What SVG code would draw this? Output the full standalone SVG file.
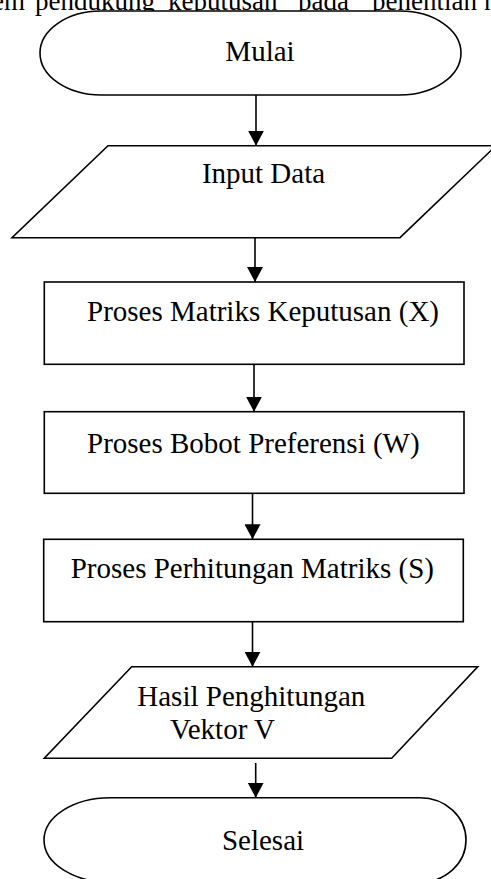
<svg xmlns="http://www.w3.org/2000/svg" width="491" height="879" viewBox="0 0 491 879">
<defs>
<style>
.s{fill:#fff;stroke:#000;stroke-width:1.6}
.t{font-family:"Liberation Serif","Times New Roman",serif;font-size:29px;fill:#000}
.h{font-family:"Liberation Serif","Times New Roman",serif;font-size:27px;fill:#000}
.c{stroke:#000;stroke-width:1.6;fill:none;marker-end:url(#ah)}
</style>
<marker id="ah" markerUnits="userSpaceOnUse" markerWidth="16" markerHeight="16" refX="15" refY="8" orient="auto">
<path d="M0,0 L15,8 L0,16 Z" fill="#000"/>
</marker>
</defs>
<rect width="491" height="879" fill="#fff"/>
<text class="h" y="10"><tspan x="25" text-anchor="end">sistem</tspan><tspan x="35">pendukung</tspan><tspan x="168">keputusan</tspan><tspan x="298">pada</tspan><tspan x="372">penentian</tspan><tspan x="484">n</tspan></text>
<g id="mulai">
<path class="s" d="M101,11 H400 A61,42 0 0 1 400,95 H101 A61,42 0 0 1 101,11 Z"/>
<text class="t" x="260" y="61" text-anchor="middle">Mulai</text>
</g>
<g id="input">
<path class="s" d="M108,145.7 H496 L400,237.7 H12 Z"/>
<text class="t" x="263.5" y="183" text-anchor="middle">Input Data</text>
</g>
<g id="matriks">
<rect class="s" x="44.3" y="282" width="419.7" height="82.3"/>
<text class="t" x="87" y="321">Proses Matriks Keputusan (X)</text>
</g>
<g id="bobot">
<rect class="s" x="44.3" y="411.7" width="419.7" height="81.6"/>
<text class="t" x="87" y="453">Proses Bobot Preferensi (W)</text>
</g>
<g id="perhitungan">
<rect class="s" x="43.7" y="539.3" width="419.6" height="82.4"/>
<text class="t" x="70.7" y="578">Proses Perhitungan Matriks (S)</text>
</g>
<g id="hasil">
<path class="s" d="M131.7,666.7 H477.7 L391.7,758.3 H44.3 Z"/>
<text class="t" x="137.3" y="706">Hasil Penghitungan</text>
<text class="t" x="170" y="739.3">Vektor V</text>
</g>
<g id="selesai">
<path class="s" d="M110,797.7 H420 A46,42.3 0 0 1 420,882.3 H110 A66,42.3 0 0 1 110,797.7 Z"/>
<text class="t" x="263" y="850" text-anchor="middle">Selesai</text>
</g>
<g id="connectors">
<line class="c" x1="256" y1="95" x2="256" y2="145.7"/>
<line class="c" x1="255" y1="237.7" x2="255" y2="282"/>
<line class="c" x1="254" y1="364.3" x2="254" y2="411.7"/>
<line class="c" x1="252.5" y1="493.3" x2="252.5" y2="539.3"/>
<line class="c" x1="252.5" y1="621.7" x2="252.5" y2="666.7"/>
<line class="c" x1="255.7" y1="763" x2="255.7" y2="797.7"/>
</g>
</svg>
